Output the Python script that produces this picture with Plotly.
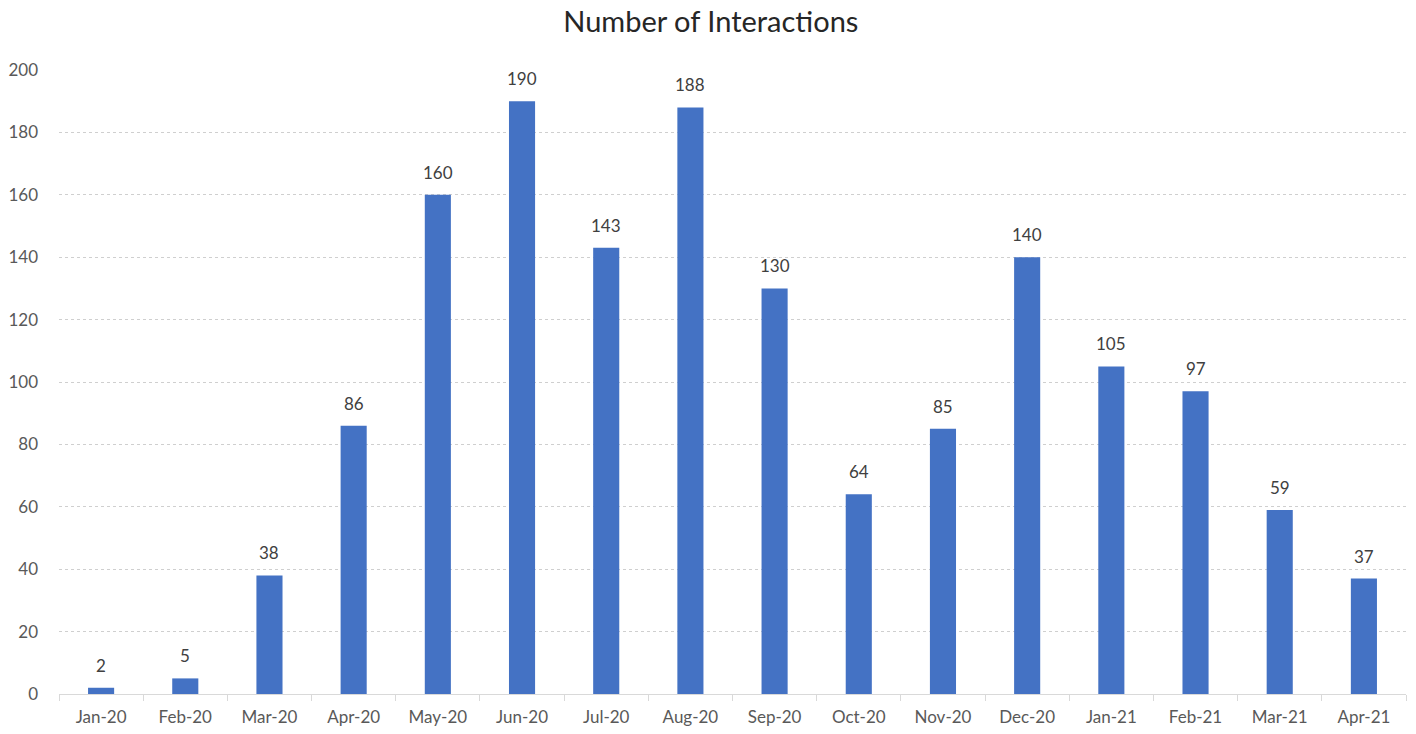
import plotly.graph_objects as go

months = ["Jan-20", "Feb-20", "Mar-20", "Apr-20", "May-20", "Jun-20", "Jul-20", "Aug-20",
          "Sep-20", "Oct-20", "Nov-20", "Dec-20", "Jan-21", "Feb-21", "Mar-21", "Apr-21"]
interactions = [2, 5, 38, 86, 160, 190, 143, 188, 130, 64, 85, 140, 105, 97, 59, 37]
y_ticks = [0, 20, 40, 60, 80, 100, 120, 140, 160, 180, 200]

font_family = "Lato, 'Open Sans', sans-serif"

fig = go.Figure(
    go.Bar(
        x=months,
        y=interactions,
        marker=dict(color="#4472C4", line=dict(width=0)),
        hoverinfo="x+y",
    )
)

# value labels above each bar
for m, v in zip(months, interactions):
    fig.add_annotation(
        x=m, y=v, text=str(v), showarrow=False,
        yanchor="bottom", yshift=10,
        font=dict(family=font_family, size=17, color="#404040"),
    )

fig.update_layout(
    width=1416, height=734,
    margin=dict(l=59, r=10, t=70, b=40),
    paper_bgcolor="white", plot_bgcolor="white",
    bargap=0.69,
    showlegend=False,
    title=dict(
        text="Number of Interactions",
        x=0.502, xref="container", xanchor="center",
        y=0.97, yref="container", yanchor="middle",
        font=dict(family=font_family, size=29, color="#262626"),
    ),
    font=dict(family=font_family),
)

fig.update_xaxes(
    type="category",
    automargin=False,
    showgrid=False,
    showline=True, linecolor="#d9d9d9", linewidth=1,
    ticks="outside", tickson="boundaries", ticklen=6, tickcolor="#d9d9d9",
    tickfont=dict(family=font_family, size=17, color="#595959"),
    ticklabelstandoff=8,
)

fig.update_yaxes(
    range=[0, 200],
    tickvals=y_ticks,
    automargin=False,
    showgrid=True, gridcolor="#cfcfcf", griddash="dot", gridwidth=1,
    zeroline=False,
    showline=False,
    ticks="",
    ticklabelstandoff=20,
    tickfont=dict(family=font_family, size=17, color="#595959"),
)

fig.write_html("out.html")
